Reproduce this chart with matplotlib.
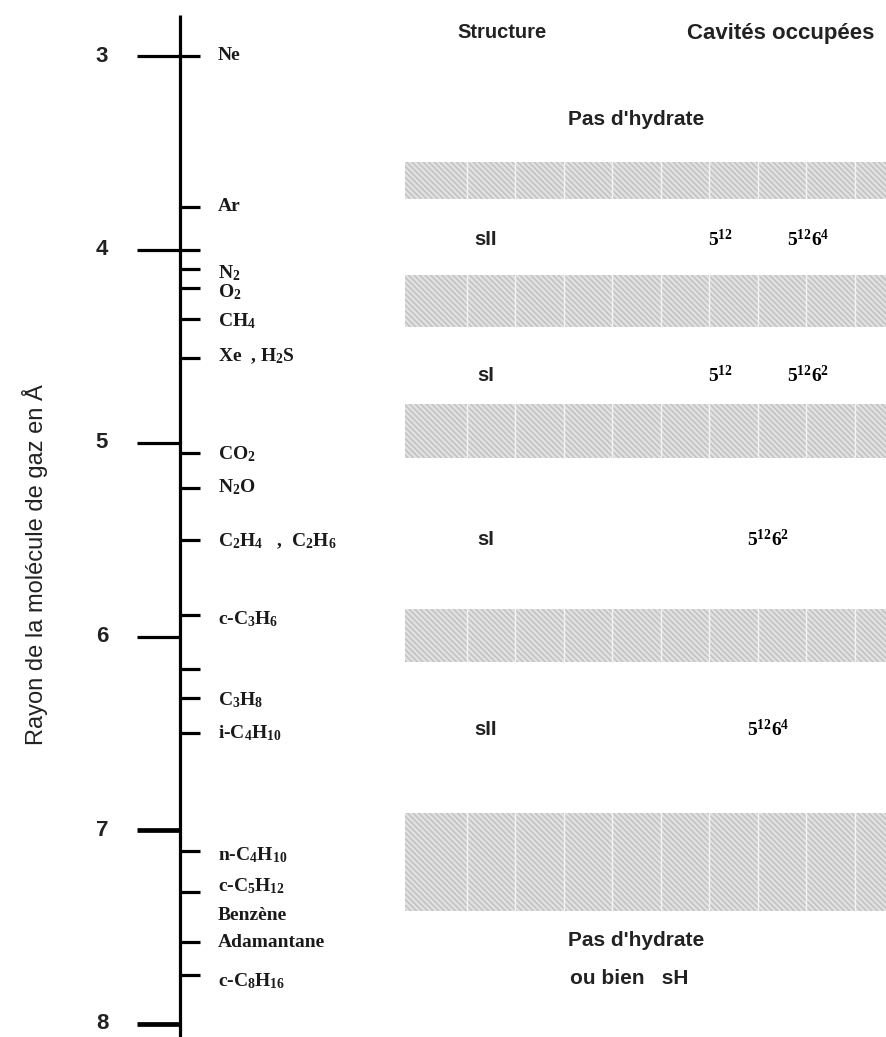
import numpy as np
import matplotlib
matplotlib.use("Agg")
import matplotlib.pyplot as plt

plt.rcParams["mathtext.fontset"] = "custom"
plt.rcParams["mathtext.rm"] = "Liberation Serif:bold"
plt.rcParams["mathtext.it"] = "Liberation Serif:bold"
plt.rcParams["mathtext.bf"] = "Liberation Serif:bold"
plt.rcParams["hatch.linewidth"] = 0.9

# Graduations principales (rayon en Angstrom)
major_ticks = [3, 4, 5, 6, 7, 8]

# Molecules et leur rayon
molecules = ["Ne", "Ar", "N$_2$", "O$_2$", "CH$_4$", "Xe  , H$_2$S", "CO$_2$",
             "N$_2$O", "C$_2$H$_4$   ,  C$_2$H$_6$", "c-C$_3$H$_6$", "C$_3$H$_8$",
             "i-C$_4$H$_{10}$", "n-C$_4$H$_{10}$", "c-C$_5$H$_{12}$", "Benzène",
             "Adamantane", "c-C$_8$H$_{16}$"]
molecule_radius = [3.00, 3.78, 4.12, 4.22, 4.37, 4.55, 5.06, 5.23, 5.51, 5.91,
                   6.33, 6.50, 7.13, 7.29, 7.44, 7.58, 7.78]

# Petites graduations a droite de l'axe
tick_radius = [3.00, 3.78, 4.00, 4.10, 4.20, 4.36, 4.56, 5.05, 5.23, 5.50, 5.89,
               6.17, 6.32, 6.50, 7.11, 7.32, 7.58, 7.75]

# Bandes grises (limites en rayon)
band_start = [3.55, 4.13, 4.80, 5.86, 6.91]
band_end = [3.74, 4.40, 5.08, 6.13, 7.42]

# Structures et cavites occupees
structures = ["sII", "sI", "sI", "sII"]
structure_radius = [3.95, 4.65, 5.50, 6.48]
cavities_small = ["5$^{12}$", "5$^{12}$", "", ""]
cavities_large = ["5$^{12}$6$^{4}$", "5$^{12}$6$^{2}$", "5$^{12}$6$^{2}$", "5$^{12}$6$^{4}$"]

no_hydrate_radius = [3.33, 7.57]

W, H = 887, 1037
px_per_unit = 193.5
r_top = 3 - 56 / px_per_unit
r_bot = 3 + (H - 56) / px_per_unit

fig = plt.figure(figsize=(W / 100, H / 100), dpi=100)
ax = fig.add_axes([0, 0, 1, 1])
ax.set_xlim(0, W)
ax.set_ylim(r_bot, r_top)
ax.axis("off")

serif = "Liberation Serif"
sans = "Liberation Sans"

# Bandes grises hachurees
for r0, r1 in zip(band_start, band_end):
    ax.axhspan(r0, r1, xmin=405 / W, xmax=1, facecolor="#e0e0e0",
               edgecolor="#bdbdbd", hatch="\\\\\\\\\\\\", linewidth=0, zorder=1)
    for xv in np.arange(467, W, 48.5):
        ax.plot([xv, xv], [r0, r1], color="#f4f4f4", lw=1.0, zorder=2)

# Axe vertical
ax.plot([180, 180], [3 - 41 / px_per_unit, r_bot], color="black", lw=2.3,
        solid_capstyle="butt", zorder=3)

# Graduations principales
for t in major_ticks:
    lw = 3.4 if t >= 7 else 2.3
    ax.plot([137, 180], [t, t], color="black", lw=lw, solid_capstyle="butt", zorder=3)
    ax.text(102, t, str(t), ha="center", va="center", fontsize=16,
            fontweight="bold", family=sans, color="#222222")

# Petites graduations
for r in tick_radius:
    ax.plot([180, 200], [r, r], color="black", lw=2.3, solid_capstyle="butt", zorder=3)

# Noms des molecules
for name, r in zip(molecules, molecule_radius):
    ax.text(218, r, name, ha="left", va="center", fontsize=14,
            fontweight="bold", family=serif, color="#1a1a1a")

# Titres des colonnes
ax.text(502, 3 - 23 / px_per_unit, "Structure", ha="center", va="center",
        fontsize=14.5, fontweight="bold", family=sans, color="#222222")
ax.text(781, 3 - 23 / px_per_unit, "Cavités occupées", ha="center", va="center",
        fontsize=16, fontweight="bold", family=sans, color="#222222")

# Structures
for s, r in zip(structures, structure_radius):
    ax.text(486, r, s, ha="center", va="center", fontsize=14.5,
            fontweight="bold", family=sans, color="#222222")

# Cavites
for small, large, r in zip(cavities_small, cavities_large, structure_radius):
    if small:
        ax.text(720, r, small, ha="center", va="center", fontsize=14,
                fontweight="bold", family=serif)
        ax.text(808, r, large, ha="center", va="center", fontsize=14,
                fontweight="bold", family=serif)
    else:
        ax.text(768, r, large, ha="center", va="center", fontsize=14,
                fontweight="bold", family=serif)

# Pas d'hydrate
ax.text(568, no_hydrate_radius[0], "Pas d'hydrate", ha="left", va="center",
        fontsize=15, fontweight="bold", family=sans, color="#222222")
ax.text(568, no_hydrate_radius[1], "Pas d'hydrate", ha="left", va="center",
        fontsize=15, fontweight="bold", family=sans, color="#222222")
ax.text(570, no_hydrate_radius[1] + 38 / px_per_unit, "ou bien   sH", ha="left",
        va="center", fontsize=15, fontweight="bold", family=sans, color="#222222")

# Titre de l'axe
ax.text(35, 3 + 509 / px_per_unit, "Rayon de la molécule de gaz en Å", rotation=90,
        ha="center", va="center", fontsize=17, family=sans, color="#222222")

fig.savefig("out.png", dpi=100)
